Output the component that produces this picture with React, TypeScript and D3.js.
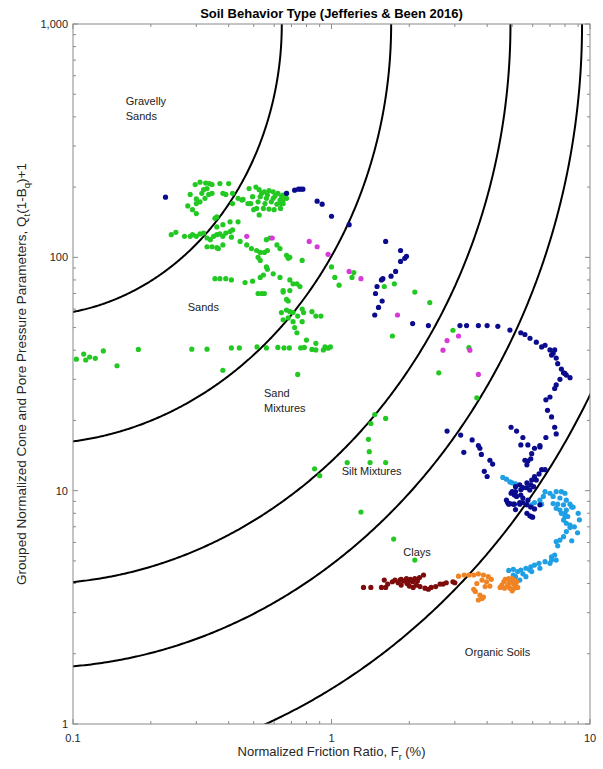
import React from 'react';
import * as d3 from 'd3';

const W = 603;
const H = 769;
const PL = 73, PR = 590, PT = 24, PB = 724;

const chartTitle = 'Soil Behavior Type (Jefferies & Been 2016)';
const xTicks = [0.1, 1, 10];
const xTickLabels = ['0.1', '1', '10'];
const yTicks = [1, 10, 100, 1000];
const yTickLabels = ['1', '10', '100', '1,000'];
const icBoundaries = [1.25, 1.8, 2.4, 2.76, 3.22];

type Pt = [number, number];

const zoneLabels: { text: string; F: number; Q: number }[] = [
  { text: 'Gravelly', F: 0.16, Q: 468 },
  { text: 'Sands', F: 0.16, Q: 403 },
  { text: 'Sands', F: 0.278, Q: 61.2 },
  { text: 'Sand', F: 0.548, Q: 26.2 },
  { text: 'Mixtures', F: 0.548, Q: 22.6 },
  { text: 'Silt Mixtures', F: 1.095, Q: 12.2 },
  { text: 'Clays', F: 1.896, Q: 5.44 },
  { text: 'Organic Soils', F: 3.28, Q: 2.03 },
];

const greenPts: Pt[] = [
  [0.297,205],[0.31,210],[0.326,208],[0.337,207],[0.345,205],[0.37,207],[0.40,207],[0.284,186],[0.30,178],[0.315,188],[0.32,195],[0.33,197],[0.335,186],[0.345,188],[0.38,188],[0.39,186],[0.414,188],[0.30,170],[0.31,173],[0.324,179],[0.278,166],[0.29,160],[0.30,154],[0.435,179],[0.45,176],[0.414,170],[0.36,149],
  [0.48,197],[0.51,200],[0.525,195],[0.55,191],[0.573,193],[0.595,191],[0.62,188],[0.64,183],[0.495,182],[0.53,182],[0.56,179],[0.595,179],[0.632,176],[0.487,170],[0.52,173],[0.553,170],[0.585,173],[0.615,169],[0.65,170],[0.513,162],[0.545,162],[0.573,161],[0.60,160],[0.635,162],[0.525,152],[0.50,160],[0.475,170],[0.455,177],[0.67,179],[0.537,188],[0.565,185],[0.605,183],[0.65,185],[0.67,188],[0.64,170],[0.65,176],
  [0.24,125],[0.25,128],[0.27,123],[0.284,123],[0.29,125],[0.30,123],[0.31,126],[0.32,127],[0.33,121],[0.34,119],[0.35,123],[0.36,125],[0.37,126],[0.38,123],[0.39,127],[0.405,129],[0.414,131],[0.41,122],[0.36,135],[0.38,138],[0.405,142],[0.435,142],[0.354,147],[0.33,111],[0.345,111],[0.36,110],[0.38,113],[0.365,109],
  [0.443,117],[0.47,113],[0.49,109],[0.513,107],[0.53,105],[0.55,105],[0.565,107],[0.56,119],[0.578,121],[0.615,113],[0.632,109],[0.67,102],[0.69,100],[0.77,97],[0.52,100],[0.53,97],[0.56,91],[0.565,89],[0.595,85],[0.632,82],[0.69,80],[0.735,77],[0.755,75],[0.354,81],[0.37,81],[0.39,81],[0.41,80],[0.463,78],[0.495,79],[0.53,82],[0.545,84],[0.68,99],
  [1.0,91],[1.03,82],[1.07,76],[1.2,82],[1.22,86],[0.71,77],[0.65,72],[0.69,72],
  [0.52,70],[0.537,70],[0.55,70],[0.65,71],[0.68,65],[0.67,66],[0.64,58],[0.67,59.4],[0.69,58.5],[0.71,58],[0.74,56],[0.78,58],[0.84,58.5],[0.87,56],[0.91,56],[0.77,60],[0.65,54],[0.68,55],[0.71,53],[0.77,53],[0.72,50],[0.735,47.5],[0.80,44.2],[0.87,42.8],[0.944,41.3],[0.99,41.3],
  [0.103,36.6],[0.11,38.5],[0.112,36.3],[0.116,37.4],[0.122,36.9],[0.131,39.7],[0.148,34.3],[0.179,40.3],[0.288,40.4],[0.33,40.4],[0.41,40.9],[0.44,40.9],[0.515,41.3],[0.56,40.9],[0.62,41.1],[0.655,40.9],[0.687,40.9],[0.76,40.9],[0.785,41.1],[0.84,40.3],[0.87,40.1],[0.93,40.1],[0.97,40.8],[0.38,32.8],[0.74,31.5],
  [1.6,75],[1.75,77],[2.1,71],[2.4,64],[1.72,46],[2.6,32],[2.95,48.7],[3.4,41],[3.65,25],[1.62,20.4],[1.62,13.2],[1.47,21.2],[1.42,19.4],[1.39,16.6],[1.4,14.7],[1.41,13.2],[1.15,13.2],[0.86,12.4],[0.9,11.6],[1.3,8.1],[1.74,6.2],[2.1,5.04],
];

const magentaPts: Pt[] = [
  [0.47,123],[0.59,121],[0.82,117],[0.88,111],[0.97,103],[1.17,87],[1.3,81],[1.8,56.6],[2.8,44],[3.1,46],[2.7,40],[3.43,40],[3.7,31.5],
];

const navyPts: Pt[] = [
  [0.228,181],[0.67,188],[0.72,194],[0.745,196],[0.76,196],[0.775,196],[0.88,174],[0.92,169],[1.0,150],[1.17,138],
  [1.62,117],[1.85,107],[1.85,96],[1.92,99],[1.95,101],[1.77,87],[1.7,83],[1.58,81],[1.56,80],[1.5,75],[1.48,70],[1.57,65],[1.52,61],[1.47,56.6],
  [2.06,52],[2.37,51],[3.14,51],[3.33,51],[3.7,51],[4.0,51],[4.4,50.6],[4.9,48.8],[5.4,47.5],[5.6,46.7],[5.86,45],[6.2,43.3],[6.5,41.3],[6.7,42],[7.0,40.1],[7.2,38.8],[7.3,40.1],[7.1,38.1],[7.4,37],[7.5,35],[7.75,33.2],[7.9,32],[8.1,31.3],[8.37,30.5],[7.65,30],[8.0,31.8],[7.4,28.4],[7.3,27.4],[7.0,25.2],[6.75,24.5],[6.85,22.1],[7.1,20.7],[7.3,18.7],[7.4,17.5],[6.75,16.9],[6.4,15.4],[6.1,15.2],[5.95,14.4],[5.9,13.7],[5.75,13.4],[5.7,12.9],[5.6,13.5],[4.95,18.7],[5.2,18],[5.5,16.9],[5.4,15.7],[5.75,15.7],[6.4,15.6],[6.5,12.3],[6.7,12.3],[6.35,11.8],[6.1,11.5],[5.95,11.1],[6.2,11.1],[5.9,10.6],[5.7,10.8],[5.7,10.3],[5.4,10.1],[5.15,9.9],[4.95,9.75],[5.2,9.45],[5.5,9.3],[5.75,9.1],[5.35,8.9],[5.1,8.75],[5.7,8.7],[5.9,8.5],[6.1,8.35],[6.4,8.7],[4.75,9.1],[4.85,8.75],[5.15,8.3],[5.85,7.8],[6.0,7.7],
  [2.8,18],[3.16,17.3],[3.5,16.5],[3.7,15.6],[3.75,15.2],[3.8,14.3],[3.25,14.6],[4.1,13.5],[4.2,13],[3.9,12.1],[4.0,11.5],
  [4.8,8.9],[4.9,8.8],[5.05,8.75],[5.35,8.75],[5.5,8.9],[5.95,7.73],[5.7,8.0],
  [5.15,10.4],[5.35,10.6],[5.5,10.3],[5.1,9.58],[5.4,9.58],[5.0,9.9],[5.85,10.07],[6.05,10.4],
];

const lightBluePts: Pt[] = [
  [4.6,11.4],[4.75,11.2],[4.9,10.9],[5.0,10.8],[5.15,10.7],
  [6.7,9.9],[7.0,9.75],[7.2,9.45],[7.4,9.9],[7.75,9.9],[8.0,9.75],[7.65,9.3],[8.1,9.1],[8.37,8.75],[8.6,8.5],[7.9,8.7],[7.65,8.26],[8.0,8.0],[8.2,7.75],[6.4,9.1],[6.5,8.75],[6.1,8.9],[5.95,8.7],[7.2,8.8],[7.4,8.4],[6.6,9.45],
  [4.85,4.55],[5.05,4.6],[5.25,4.5],[5.4,4.57],[5.65,4.65],[5.9,4.72],[6.1,4.8],[6.35,4.88],[6.7,4.96],[7.1,5.04],[7.4,5.04],[5.15,4.28],[5.35,4.14],[5.05,4.35],[5.95,4.5],[6.4,4.65],[7.0,4.88],[7.4,6.05],[7.65,6.14],[7.9,6.35],[8.1,6.68],[8.37,6.95],[8.1,7.25],[7.9,7.48],[8.0,7.73],[7.75,8.0],[8.1,8.26],[8.5,8.5],[7.5,8.75],[8.37,7.12],[7.5,5.8],[7.3,5.3],[7.1,5.2],[5.65,4.28],[5.5,4.4],[5.85,4.57],
  [9.0,8.0],[9.1,7.5],[8.7,7.0],[8.95,6.6],[8.5,6.1],
];

const orangePts: Pt[] = [
  [3.1,4.3],[3.26,4.35],[3.4,4.35],[3.55,4.35],[3.7,4.4],[3.87,4.35],[4.04,4.28],[4.15,4.17],[3.98,4.07],[3.82,4.14],[3.65,4.0],[3.55,3.78],[3.6,3.7],[3.75,3.57],[3.82,3.45],[3.87,3.5],[3.7,3.4],[3.93,3.88],[4.1,3.9],[4.49,3.85],[4.64,4.07],[4.7,4.17],[4.85,4.2],[4.9,4.07],[5.05,4.0],[5.15,3.94],[5.25,3.85],[4.79,3.9],[4.9,3.82],[4.67,3.82],[5.1,3.82],[5.0,3.72],[5.0,4.2],[5.1,4.14],[5.2,4.07],[4.85,4.0],[4.56,3.94],
];

const darkRedPts: Pt[] = [
  [1.33,3.85],[1.42,3.85],[1.56,3.85],[1.62,3.85],[1.65,3.98],[1.6,4.14],[1.72,4.07],[1.76,4.14],[1.81,4.03],[1.86,4.17],[1.9,4.1],[1.95,4.2],[1.98,4.07],[2.02,4.17],[2.06,4.07],[2.1,4.2],[2.15,4.1],[2.19,4.24],[2.27,4.35],[2.0,3.9],[2.07,3.85],[2.13,3.94],[2.2,3.88],[2.3,3.82],[2.37,3.78],[2.43,3.85],[2.53,3.88],[2.63,3.98],[2.7,3.98],[2.78,4.03],[2.95,4.07],[3.0,4.03],[1.86,3.94],[1.96,4.0],[1.84,4.14],
];

const series: { pts: Pt[]; color: string }[] = [
  { pts: greenPts, color: '#22c922' },
  { pts: magentaPts, color: '#d83ad8' },
  { pts: lightBluePts, color: '#1f9fe4' },
  { pts: orangePts, color: '#f08424' },
  { pts: darkRedPts, color: '#7d0b0b' },
  { pts: navyPts, color: '#0b0b8e' },
];

const FONT = '"Liberation Sans", Arial, Helvetica, sans-serif';

export default function App() {
  const x = d3.scaleLog().domain([0.1, 10]).range([PL, PR]);
  const y = d3.scaleLog().domain([1, 1000]).range([PB, PT]);

  const xMinor: number[] = [];
  [0.1, 1].forEach((d) => { for (let k = 2; k <= 9; k++) xMinor.push(d * k); });
  const yMinor: number[] = [];
  [1, 10, 100].forEach((d) => { for (let k = 2; k <= 9; k++) yMinor.push(d * k); });

  const line = d3.line<[number, number]>().x((d) => x(d[0])).y((d) => y(d[1]));
  const curves = icBoundaries.map((ic) => {
    const pts: [number, number][] = [];
    const n = 400;
    for (let i = 0; i <= n; i++) {
      const t = (i / n) * (Math.PI / 2);
      const a = ic * Math.cos(t);
      const L = (a - 1.5) / 1.3;
      const lq = 3 - ic * Math.sin(t);
      pts.push([Math.pow(10, L), Math.pow(10, lq)]);
    }
    return line(pts) as string;
  });

  const axisColor = '#8a8a8a';
  const tickColor = '#262626';

  return (
    <svg width={W} height={H} style={{ position: 'absolute', left: 0, top: 0, background: '#fff' }} fontFamily={FONT}>
      <defs>
        <clipPath id="plotClip">
          <rect x={PL} y={PT} width={PR - PL} height={PB - PT} />
        </clipPath>
      </defs>
      <rect x={0} y={0} width={W} height={H} fill="#fff" />
      <g clipPath="url(#plotClip)">
        {curves.map((d, i) => (
          <path key={i} d={d} fill="none" stroke="#000" strokeWidth={2} />
        ))}
        {series.map((s, si) => (
          <g key={si} fill={s.color}>
            {s.pts.map((p, i) => (
              <circle key={i} cx={x(p[0])} cy={y(p[1])} r={2.6} />
            ))}
          </g>
        ))}
      </g>
      <rect x={PL} y={PT} width={PR - PL} height={PB - PT} fill="none" stroke={axisColor} strokeWidth={1} />
      <g stroke={axisColor} strokeWidth={1}>
        {xTicks.map((t, i) => (
          <g key={'xm' + i}>
            <line x1={x(t)} x2={x(t)} y1={PB} y2={PB - 5} />
            <line x1={x(t)} x2={x(t)} y1={PT} y2={PT + 5} />
          </g>
        ))}
        {xMinor.map((t, i) => (
          <g key={'xn' + i}>
            <line x1={x(t)} x2={x(t)} y1={PB} y2={PB - 3} />
            <line x1={x(t)} x2={x(t)} y1={PT} y2={PT + 3} />
          </g>
        ))}
        {yTicks.map((t, i) => (
          <g key={'ym' + i}>
            <line x1={PL} x2={PL + 5} y1={y(t)} y2={y(t)} />
            <line x1={PR} x2={PR - 5} y1={y(t)} y2={y(t)} />
          </g>
        ))}
        {yMinor.map((t, i) => (
          <g key={'yn' + i}>
            <line x1={PL} x2={PL + 3} y1={y(t)} y2={y(t)} />
            <line x1={PR} x2={PR - 3} y1={y(t)} y2={y(t)} />
          </g>
        ))}
      </g>
      <g fontSize={11} fill={tickColor}>
        {xTicks.map((t, i) => (
          <text key={'xl' + i} x={x(t)} y={PB + 18} textAnchor="middle">{xTickLabels[i]}</text>
        ))}
        {yTicks.map((t, i) => (
          <text key={'yl' + i} x={PL - 5} y={y(t) + 4} textAnchor="end">{yTickLabels[i]}</text>
        ))}
      </g>
      <g fontSize={11} fill="#222">
        {zoneLabels.map((z, i) => (
          <text key={'z' + i} x={x(z.F)} y={y(z.Q) + 4}>{z.text}</text>
        ))}
      </g>
      <text x={(PL + PR) / 2} y={18} textAnchor="middle" fontSize={13} fontWeight="bold" fill="#000">{chartTitle}</text>
      <text x={(PL + PR) / 2} y={756} textAnchor="middle" fontSize={13} fill={tickColor}>
        Normalized Friction Ratio, F<tspan dy={4} fontSize={9}>r</tspan><tspan dy={-4}> (%)</tspan>
      </text>
      <text transform={`translate(26,${(PT + PB) / 2}) rotate(-90)`} textAnchor="middle" fontSize={13.5} fill={tickColor}>
        Grouped Normalized Cone and Pore Pressure Parameters, Q<tspan dy={4} fontSize={9.5}>t</tspan><tspan dy={-4}>(1-B</tspan><tspan dy={4} fontSize={9.5}>q</tspan><tspan dy={-4}>)+1</tspan>
      </text>
    </svg>
  );
}
